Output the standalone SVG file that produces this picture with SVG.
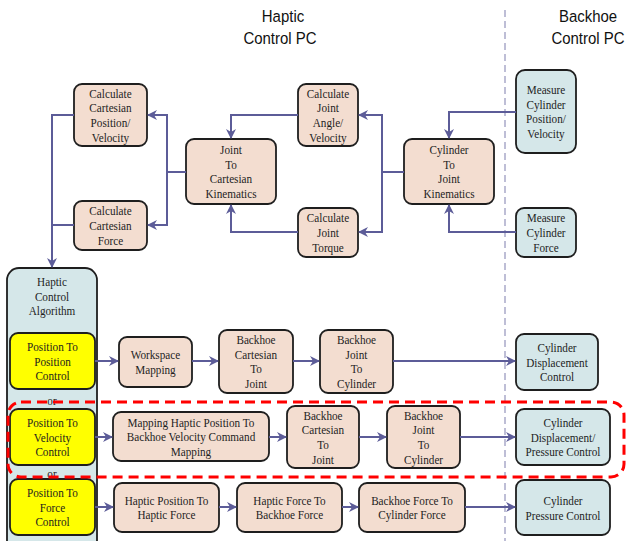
<svg xmlns="http://www.w3.org/2000/svg" width="629" height="541" viewBox="0 0 629 541">
<style>
.b{stroke:#1e1e1e;stroke-width:1.8}
.p{fill:#f3ddd0}
.c{fill:#d5e7e9}
.y{fill:#ffff00}
.t{font-family:"Liberation Serif","Times New Roman",serif;font-size:13.5px;fill:#1e1e1e;text-anchor:middle}
.h{font-family:"Liberation Sans",Arial,sans-serif;font-size:17px;fill:#111;text-anchor:middle}
.k{fill:none;stroke:#5c5c98;stroke-width:2}
.a{marker-end:url(#ah)}
</style>
<defs>
<marker id="ah" viewBox="0 0 10 10" refX="9" refY="5" markerWidth="5" markerHeight="5" orient="auto" markerUnits="strokeWidth">
<path d="M0,0 L10,5 L0,10 L3,5 z" fill="#5c5c98"/>
</marker>
</defs>
<rect width="629" height="541" fill="#ffffff"/>
<line x1="505" y1="10" x2="505" y2="541" stroke="#a9a9c9" stroke-width="1.5" stroke-dasharray="7,4"/>
<text class="h" transform="translate(283,22) scale(0.88,1)">Haptic</text>
<text class="h" transform="translate(280,44) scale(0.88,1)">Control PC</text>
<text class="h" transform="translate(588,22) scale(0.88,1)">Backhoe</text>
<text class="h" transform="translate(588,44) scale(0.88,1)">Control PC</text>

<g id="calcCartPos"><rect class="b p" x="74" y="84" width="73" height="62" rx="8"/>
<text class="t" transform="translate(110.5,97.5) scale(0.83,1)"><tspan x="0" y="0">Calculate</tspan><tspan x="0" dy="14.7">Cartesian</tspan><tspan x="0" dy="14.7">Position/</tspan><tspan x="0" dy="14.7">Velocity</tspan></text></g>
<g id="calcCartForce"><rect class="b p" x="74" y="201" width="73" height="49" rx="8"/>
<text class="t" transform="translate(110.5,215.3) scale(0.83,1)"><tspan x="0" y="0">Calculate</tspan><tspan x="0" dy="14.7">Cartesian</tspan><tspan x="0" dy="14.7">Force</tspan></text></g>
<g id="jointToCart"><rect class="b p" x="186" y="139" width="90" height="65" rx="8"/>
<text class="t" transform="translate(231,154) scale(0.83,1)"><tspan x="0" y="0">Joint</tspan><tspan x="0" dy="14.7">To</tspan><tspan x="0" dy="14.7">Cartesian</tspan><tspan x="0" dy="14.7">Kinematics</tspan></text></g>
<g id="calcJointAngle"><rect class="b p" x="298" y="84" width="60" height="62" rx="8"/>
<text class="t" transform="translate(328,97.5) scale(0.83,1)"><tspan x="0" y="0">Calculate</tspan><tspan x="0" dy="14.7">Joint</tspan><tspan x="0" dy="14.7">Angle/</tspan><tspan x="0" dy="14.7">Velocity</tspan></text></g>
<g id="calcJointTorque"><rect class="b p" x="298" y="208" width="60" height="49" rx="8"/>
<text class="t" transform="translate(328,222.3) scale(0.83,1)"><tspan x="0" y="0">Calculate</tspan><tspan x="0" dy="14.7">Joint</tspan><tspan x="0" dy="14.7">Torque</tspan></text></g>
<g id="cylToJoint"><rect class="b p" x="404" y="139" width="90" height="65" rx="8"/>
<text class="t" transform="translate(449,154) scale(0.83,1)"><tspan x="0" y="0">Cylinder</tspan><tspan x="0" dy="14.7">To</tspan><tspan x="0" dy="14.7">Joint</tspan><tspan x="0" dy="14.7">Kinematics</tspan></text></g>
<g id="measCylPos"><rect class="b c" x="516" y="70" width="60" height="83" rx="9"/>
<text class="t" transform="translate(546,94) scale(0.83,1)"><tspan x="0" y="0">Measure</tspan><tspan x="0" dy="14.7">Cylinder</tspan><tspan x="0" dy="14.7">Position/</tspan><tspan x="0" dy="14.7">Velocity</tspan></text></g>
<g id="measCylForce"><rect class="b c" x="516" y="208" width="60" height="49" rx="8"/>
<text class="t" transform="translate(546,222.3) scale(0.83,1)"><tspan x="0" y="0">Measure</tspan><tspan x="0" dy="14.7">Cylinder</tspan><tspan x="0" dy="14.7">Force</tspan></text></g>

<g id="hapticControlAlgorithm"><rect class="b c" x="7" y="268" width="90" height="290" rx="12"/>
<text class="t" transform="translate(52,286) scale(0.83,1)"><tspan x="0" y="0">Haptic</tspan><tspan x="0" dy="14.7">Control</tspan><tspan x="0" dy="14.7">Algorithm</tspan></text>
<text class="t" transform="translate(52,405) scale(0.83,1)">or</text>
<text class="t" transform="translate(52,478) scale(0.83,1)">or</text></g>
<g id="posToPos"><rect class="b y" x="10" y="333" width="85" height="56" rx="8"/>
<text class="t" transform="translate(52.5,351) scale(0.83,1)"><tspan x="0" y="0">Position To</tspan><tspan x="0" dy="14.7">Position</tspan><tspan x="0" dy="14.7">Control</tspan></text></g>
<g id="posToVel"><rect class="b y" x="10" y="409" width="85" height="56" rx="8"/>
<text class="t" transform="translate(52.5,427) scale(0.83,1)"><tspan x="0" y="0">Position To</tspan><tspan x="0" dy="14.7">Velocity</tspan><tspan x="0" dy="14.7">Control</tspan></text></g>
<g id="posToForce"><rect class="b y" x="10" y="479" width="85" height="56" rx="8"/>
<text class="t" transform="translate(52.5,497) scale(0.83,1)"><tspan x="0" y="0">Position To</tspan><tspan x="0" dy="14.7">Force</tspan><tspan x="0" dy="14.7">Control</tspan></text></g>

<g id="workspaceMapping"><rect class="b p" x="119" y="337" width="73" height="50" rx="8"/>
<text class="t" transform="translate(155.5,359) scale(0.83,1)"><tspan x="0" y="0">Workspace</tspan><tspan x="0" dy="14.7">Mapping</tspan></text></g>
<g id="bhCartToJoint1"><rect class="b p" x="219" y="330" width="74" height="63" rx="8"/>
<text class="t" transform="translate(256,344) scale(0.83,1)"><tspan x="0" y="0">Backhoe</tspan><tspan x="0" dy="14.7">Cartesian</tspan><tspan x="0" dy="14.7">To</tspan><tspan x="0" dy="14.7">Joint</tspan></text></g>
<g id="bhJointToCyl1"><rect class="b p" x="320" y="330" width="73" height="63" rx="8"/>
<text class="t" transform="translate(356.5,344) scale(0.83,1)"><tspan x="0" y="0">Backhoe</tspan><tspan x="0" dy="14.7">Joint</tspan><tspan x="0" dy="14.7">To</tspan><tspan x="0" dy="14.7">Cylinder</tspan></text></g>
<g id="cylDispControl"><rect class="b c" x="516" y="334" width="82" height="56" rx="8"/>
<text class="t" transform="translate(557,352) scale(0.83,1)"><tspan x="0" y="0">Cylinder</tspan><tspan x="0" dy="14.7">Displacement</tspan><tspan x="0" dy="14.7">Control</tspan></text></g>

<g id="mappingVel"><rect class="b p" x="113" y="412" width="156" height="49" rx="8"/>
<text class="t" transform="translate(191,426.5) scale(0.83,1)"><tspan x="0" y="0">Mapping  Haptic Position To</tspan><tspan x="0" dy="14.7">Backhoe Velocity Command</tspan><tspan x="0" dy="14.7">Mapping</tspan></text></g>
<g id="bhCartToJoint2"><rect class="b p" x="287" y="406" width="72" height="62" rx="8"/>
<text class="t" transform="translate(323,419.5) scale(0.83,1)"><tspan x="0" y="0">Backhoe</tspan><tspan x="0" dy="14.7">Cartesian</tspan><tspan x="0" dy="14.7">To</tspan><tspan x="0" dy="14.7">Joint</tspan></text></g>
<g id="bhJointToCyl2"><rect class="b p" x="387" y="406" width="73" height="62" rx="8"/>
<text class="t" transform="translate(423.5,419.5) scale(0.83,1)"><tspan x="0" y="0">Backhoe</tspan><tspan x="0" dy="14.7">Joint</tspan><tspan x="0" dy="14.7">To</tspan><tspan x="0" dy="14.7">Cylinder</tspan></text></g>
<g id="cylDispPressControl"><rect class="b c" x="516" y="409" width="94" height="56" rx="8"/>
<text class="t" transform="translate(563,427) scale(0.83,1)"><tspan x="0" y="0">Cylinder</tspan><tspan x="0" dy="14.7">Displacement/</tspan><tspan x="0" dy="14.7">Pressure Control</tspan></text></g>

<g id="hapPosToHapForce"><rect class="b p" x="114" y="483" width="105" height="49" rx="8"/>
<text class="t" transform="translate(166.5,504.5) scale(0.83,1)"><tspan x="0" y="0">Haptic Position To</tspan><tspan x="0" dy="14.7">Haptic Force</tspan></text></g>
<g id="hapForceToBhForce"><rect class="b p" x="237" y="483" width="105" height="49" rx="8"/>
<text class="t" transform="translate(289.5,504.5) scale(0.83,1)"><tspan x="0" y="0">Haptic Force To</tspan><tspan x="0" dy="14.7">Backhoe Force</tspan></text></g>
<g id="bhForceToCylForce"><rect class="b p" x="359" y="483" width="106" height="49" rx="8"/>
<text class="t" transform="translate(412,504.5) scale(0.83,1)"><tspan x="0" y="0">Backhoe Force To</tspan><tspan x="0" dy="14.7">Cylinder Force</tspan></text></g>
<g id="cylPressControl"><rect class="b c" x="516" y="480" width="94" height="55" rx="8"/>
<text class="t" transform="translate(563,505) scale(0.83,1)"><tspan x="0" y="0">Cylinder</tspan><tspan x="0" dy="14.7">Pressure Control</tspan></text></g>

<g id="connectors">
<polyline class="k a" points="74,115 52,115 52,267"/>
<polyline class="k" points="74,225 52,225"/>
<polyline class="k" points="186,172 167,172"/>
<polyline class="k a" points="167,172 167,115 148,115"/>
<polyline class="k a" points="167,172 167,225 148,225"/>
<polyline class="k a" points="298,115 231,115 231,138"/>
<polyline class="k a" points="298,232 231,232 231,205"/>
<polyline class="k" points="404,172 382,172"/>
<polyline class="k a" points="382,172 382,115 359,115"/>
<polyline class="k a" points="382,172 382,232 359,232"/>
<polyline class="k a" points="516,112 449,112 449,138"/>
<polyline class="k a" points="516,232 449,232 449,205"/>
<line class="k a" x1="95" y1="361" x2="118" y2="361"/>
<line class="k a" x1="192" y1="361" x2="218" y2="361"/>
<line class="k a" x1="293" y1="361" x2="319" y2="361"/>
<line class="k a" x1="393" y1="361" x2="515" y2="361"/>
<line class="k a" x1="95" y1="437" x2="112" y2="437"/>
<line class="k a" x1="269" y1="437" x2="286" y2="437"/>
<line class="k a" x1="359" y1="437" x2="386" y2="437"/>
<line class="k a" x1="460" y1="437" x2="515" y2="437"/>
<line class="k a" x1="95" y1="507" x2="113" y2="507"/>
<line class="k a" x1="219" y1="507" x2="236" y2="507"/>
<line class="k a" x1="342" y1="507" x2="358" y2="507"/>
<line class="k a" x1="465" y1="507" x2="515" y2="507"/>
</g>
<rect x="8" y="402" width="616" height="75" rx="13" fill="none" stroke="#ff0000" stroke-width="3" stroke-dasharray="10,6"/>
</svg>
